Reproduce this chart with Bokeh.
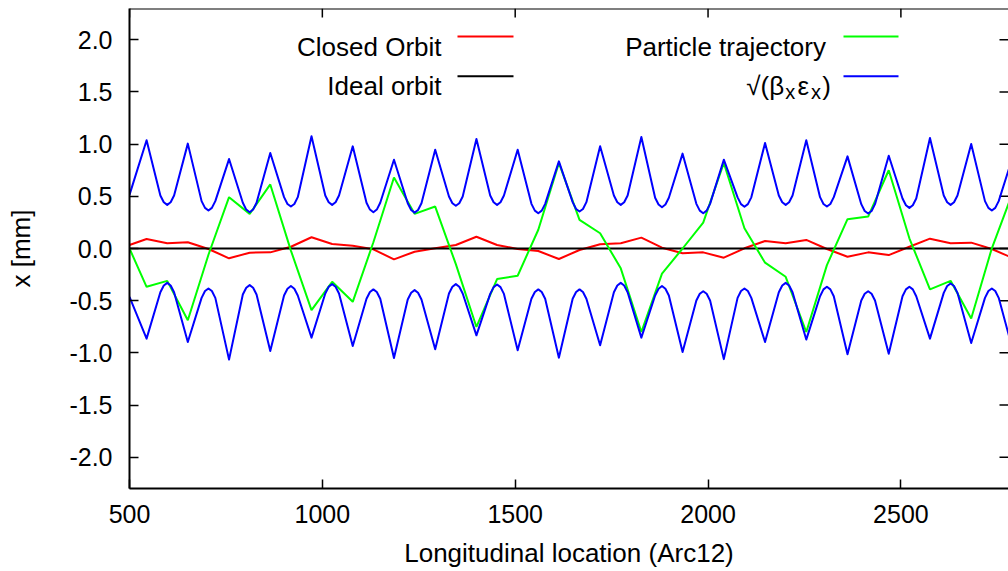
from bokeh.plotting import figure
from bokeh.models import LinearAxis, FixedTicker, NumeralTickFormatter, Label, Arrow, Range1d, Span
from bokeh.embed import file_html
from bokeh.resources import INLINE

# ---------------- data ----------------
# BPM / quadrupole positions (closed orbit and trajectory samples)
s = [500.0, 544.3, 597.8, 651.2, 704.7, 758.1, 811.6, 865.0, 918.5, 971.9, 1025.4,
     1078.8, 1132.3, 1185.7, 1239.2, 1292.6, 1346.1, 1399.5, 1453.0, 1506.4, 1559.9,
     1613.3, 1666.8, 1720.2, 1773.7, 1827.1, 1880.6, 1934.0, 1987.5, 2040.9, 2094.4,
     2147.8, 2201.3, 2254.7, 2308.2, 2361.6, 2415.1, 2468.5, 2522.0, 2575.4, 2628.9,
     2682.3, 2735.8, 2789.2]

closed_orbit = [0.034, 0.091, 0.050, 0.060, -0.005, -0.094, -0.040, -0.037, 0.017, 0.108, 0.043,
                0.027, -0.008, -0.104, -0.031, 0.002, 0.034, 0.113, 0.034, -0.005, -0.024,
                -0.101, -0.014, 0.040, 0.050, 0.104, 0.008, -0.046, -0.037, -0.088, 0.002,
                0.072, 0.050, 0.082, -0.005, -0.079, -0.037, -0.063, 0.017, 0.094, 0.050,
                0.056, -0.005, -0.090]

trajectory = [0.000, -0.367, -0.310, -0.688, -0.060, 0.492, 0.332, 0.614, -0.020, -0.591, -0.319,
              -0.511, 0.060, 0.680, 0.332, 0.402, -0.150, -0.752, -0.293, -0.261, 0.180,
              0.820, 0.274, 0.146, -0.190, -0.800, -0.240, 0.000, 0.248, 0.820, 0.194,
              -0.136, -0.271, -0.800, -0.159, 0.281, 0.306, 0.750, 0.098, -0.392, -0.310,
              -0.671, 0.002, 0.530]

# envelope samples (finer around each defocusing quad, where the envelope is rounded)
env_s = [500.0, 544.3,
         580.0, 588.9, 597.8, 606.7, 615.6, 651.2,
         686.9, 695.8, 704.7, 713.6, 722.5, 758.1,
         793.8, 802.7, 811.6, 820.5, 829.4, 865.0,
         900.7, 909.6, 918.5, 927.4, 936.3, 971.9,
         1007.6, 1016.5, 1025.4, 1034.3, 1043.2, 1078.8,
         1114.5, 1123.4, 1132.3, 1141.2, 1150.1, 1185.7,
         1221.4, 1230.3, 1239.2, 1248.1, 1257.0, 1292.6,
         1328.3, 1337.2, 1346.1, 1355.0, 1363.9, 1399.5,
         1435.2, 1444.1, 1453.0, 1461.9, 1470.8, 1506.4,
         1542.1, 1551.0, 1559.9, 1568.8, 1577.7, 1613.3,
         1649.0, 1657.9, 1666.8, 1675.7, 1684.6, 1720.2,
         1755.9, 1764.8, 1773.7, 1782.6, 1791.5, 1827.1,
         1862.8, 1871.7, 1880.6, 1889.5, 1898.4, 1934.0,
         1969.7, 1978.6, 1987.5, 1996.4, 2005.3, 2040.9,
         2076.6, 2085.5, 2094.4, 2103.3, 2112.2, 2147.8,
         2183.5, 2192.4, 2201.3, 2210.2, 2219.1, 2254.7,
         2290.4, 2299.3, 2308.2, 2317.1, 2326.0, 2361.6,
         2397.3, 2406.2, 2415.1, 2424.0, 2432.9, 2468.5,
         2504.2, 2513.1, 2522.0, 2530.9, 2539.8, 2575.4,
         2611.1, 2620.0, 2628.9, 2637.8, 2646.7, 2682.3,
         2718.0, 2726.9, 2735.8, 2744.7, 2753.6, 2789.2]

envelope_upper = [0.514, 1.037,
                  0.508, 0.443, 0.418, 0.443, 0.508, 1.005,
                  0.454, 0.389, 0.364, 0.389, 0.454, 0.857,
                  0.438, 0.373, 0.348, 0.373, 0.438, 0.915,
                  0.492, 0.427, 0.402, 0.427, 0.492, 1.075,
                  0.508, 0.443, 0.418, 0.443, 0.508, 0.979,
                  0.438, 0.373, 0.348, 0.373, 0.438, 0.851,
                  0.434, 0.369, 0.344, 0.369, 0.434, 0.947,
                  0.499, 0.434, 0.409, 0.434, 0.499, 1.050,
                  0.508, 0.443, 0.418, 0.443, 0.508, 0.947,
                  0.428, 0.363, 0.338, 0.363, 0.428, 0.835,
                  0.444, 0.379, 0.354, 0.379, 0.444, 0.979,
                  0.508, 0.443, 0.418, 0.443, 0.508, 1.069,
                  0.486, 0.421, 0.396, 0.421, 0.486, 0.909,
                  0.428, 0.363, 0.338, 0.363, 0.428, 0.851,
                  0.490, 0.425, 0.400, 0.425, 0.490, 1.011,
                  0.508, 0.443, 0.418, 0.443, 0.508, 1.037,
                  0.492, 0.427, 0.402, 0.427, 0.492, 0.883,
                  0.425, 0.360, 0.335, 0.360, 0.425, 0.889,
                  0.479, 0.414, 0.389, 0.414, 0.479, 1.059,
                  0.508, 0.443, 0.418, 0.443, 0.508, 1.002,
                  0.454, 0.389, 0.364, 0.389, 0.454, 0.870]

envelope_lower = [-0.463, -0.864,
                  -0.419, -0.354, -0.329, -0.354, -0.419, -0.896,
                  -0.473, -0.408, -0.383, -0.408, -0.473, -1.065,
                  -0.441, -0.376, -0.351, -0.376, -0.441, -0.982,
                  -0.450, -0.385, -0.360, -0.385, -0.450, -0.854,
                  -0.431, -0.366, -0.341, -0.366, -0.431, -0.934,
                  -0.482, -0.417, -0.392, -0.417, -0.482, -1.050,
                  -0.489, -0.424, -0.399, -0.424, -0.489, -0.966,
                  -0.431, -0.366, -0.341, -0.366, -0.431, -0.832,
                  -0.435, -0.370, -0.345, -0.370, -0.435, -0.976,
                  -0.482, -0.417, -0.392, -0.417, -0.482, -1.046,
                  -0.482, -0.417, -0.392, -0.417, -0.482, -0.928,
                  -0.419, -0.354, -0.329, -0.354, -0.419, -0.854,
                  -0.450, -0.385, -0.360, -0.385, -0.450, -0.992,
                  -0.499, -0.434, -0.409, -0.434, -0.499, -1.060,
                  -0.473, -0.408, -0.383, -0.408, -0.473, -0.896,
                  -0.419, -0.354, -0.329, -0.354, -0.419, -0.873,
                  -0.457, -0.392, -0.367, -0.392, -0.457, -1.014,
                  -0.499, -0.434, -0.409, -0.434, -0.499, -1.008,
                  -0.457, -0.392, -0.367, -0.392, -0.457, -0.864,
                  -0.425, -0.360, -0.335, -0.360, -0.425, -0.906,
                  -0.473, -0.408, -0.383, -0.408, -0.473, -0.960]

ideal_s = [500.0, 2789.2]
ideal_x = [0.0, 0.0]

x_ticks = [500, 1000, 1500, 2000, 2500]
y_ticks = [-2.0, -1.5, -1.0, -0.5, 0.0, 0.5, 1.0, 1.5, 2.0]

series_labels = ["Closed Orbit", "Ideal orbit", "Particle trajectory"]

# ---------------- styles ----------------
FONT = "Liberation Sans"
FS_TICK = "25px"
FS = "26px"
RED, BLACK, GREEN, BLUE = "#ff0000", "#000000", "#00ff00", "#0000ff"
LW = 2
X0, X1 = 500, 2779
Y0, Y1 = -2.3, 2.3
FRAME_W, FRAME_H = 879, 480
TICK_PX = 9

p = figure(width=1008, height=571, output_backend="svg", toolbar_location=None,
           x_range=Range1d(X0, X1), y_range=Range1d(Y0, Y1),
           x_axis_location=None, y_axis_location=None,
           min_border_left=129, min_border_right=0, min_border_top=8, min_border_bottom=83)
p.outline_line_color = None
p.grid.visible = False
p.background_fill_color = "white"
p.border_fill_color = "white"


def style_axis(ax):
    ax.major_tick_in = TICK_PX
    ax.major_tick_out = 0
    ax.minor_tick_in = 0
    ax.minor_tick_out = 0
    ax.major_tick_line_color = "black"
    ax.major_tick_line_width = 1.5
    ax.axis_line_color = "black"
    ax.axis_line_width = 2
    ax.major_label_text_font = FONT
    ax.major_label_text_font_size = FS_TICK
    ax.major_label_text_color = "black"
    ax.axis_label_text_font = FONT
    ax.axis_label_text_font_size = FS
    ax.axis_label_text_font_style = "normal"
    ax.axis_label_text_color = "black"


xb = LinearAxis(ticker=FixedTicker(ticks=x_ticks), axis_label="Longitudinal location (Arc12)")
style_axis(xb)
xb.major_label_standoff = 16
xb.axis_label_standoff = 12
p.add_layout(xb, "below")

yl = LinearAxis(ticker=FixedTicker(ticks=y_ticks), formatter=NumeralTickFormatter(format="0.0"),
                axis_label="x [mm]")
style_axis(yl)
yl.major_label_standoff = 17
yl.axis_label_standoff = 30
p.add_layout(yl, "left")

# top border with mirrored inward ticks, right-side mirrored ticks (border itself is off-page)
p.add_layout(Span(location=Y1, dimension="width", line_color="black", line_width=2))
tick_dy = TICK_PX * (Y1 - Y0) / FRAME_H
tick_dx = TICK_PX * (X1 - X0) / FRAME_W
p.segment(x0=x_ticks, y0=[Y1] * len(x_ticks), x1=x_ticks, y1=[Y1 - tick_dy] * len(x_ticks),
          line_color="black", line_width=1.5)
p.segment(x0=[X1] * len(y_ticks), y0=y_ticks, x1=[X1 - tick_dx] * len(y_ticks), y1=y_ticks,
          line_color="black", line_width=1.5)

# ---------------- data lines ----------------
p.line(s, closed_orbit, line_color=RED, line_width=LW)
p.line(ideal_s, ideal_x, line_color=BLACK, line_width=LW)
p.line(s, trajectory, line_color=GREEN, line_width=LW)
p.line(env_s, envelope_upper, line_color=BLUE, line_width=LW, line_join="round")
p.line(env_s, envelope_lower, line_color=BLUE, line_width=LW, line_join="round")

# ---------------- legend (gnuplot style: text then sample) ----------------
row1_y, row2_y = 1.929, 1.562
row1_line, row2_line = 2.032, 1.651
col1_text, col2_text = 1309.0, 2305.8
col1_l0, col1_l1 = 1350.4, 1495.6
col2_l0, col2_l1 = 2351.2, 2493.8


def txt(x, y, t, align="right", size=FS):
    p.add_layout(Label(x=x, y=y, text=t, text_align=align, text_baseline="alphabetic",
                       text_font=FONT, text_font_size=size, text_color="black"))


def sample(x0, x1, y, color):
    p.add_layout(Arrow(x_start=x0, y_start=y, x_end=x1, y_end=y, start=None, end=None,
                       line_color=color, line_width=LW))


txt(col1_text, row1_y, series_labels[0])
sample(col1_l0, col1_l1, row1_line, RED)
txt(col1_text, row2_y, series_labels[1])
sample(col1_l0, col1_l1, row2_line, BLACK)
txt(col2_text, row1_y, series_labels[2])
sample(col2_l0, col2_l1, row1_line, GREEN)

# sqrt(beta_x eps_x) with real subscripts
sub_dy = 0.062
txt(2099.0, row2_y, "\u221a(\u03b2", align="left")
txt(2200.0, row2_y - sub_dy, "x", align="left", size="20px")
txt(2232.0, row2_y, "\u03b5", align="left")
txt(2267.0, row2_y - sub_dy, "x", align="left", size="20px")
txt(2296.0, row2_y, ")", align="left")
sample(col2_l0, col2_l1, row2_line, BLUE)

open("out.html", "w").write(file_html(p, INLINE))
